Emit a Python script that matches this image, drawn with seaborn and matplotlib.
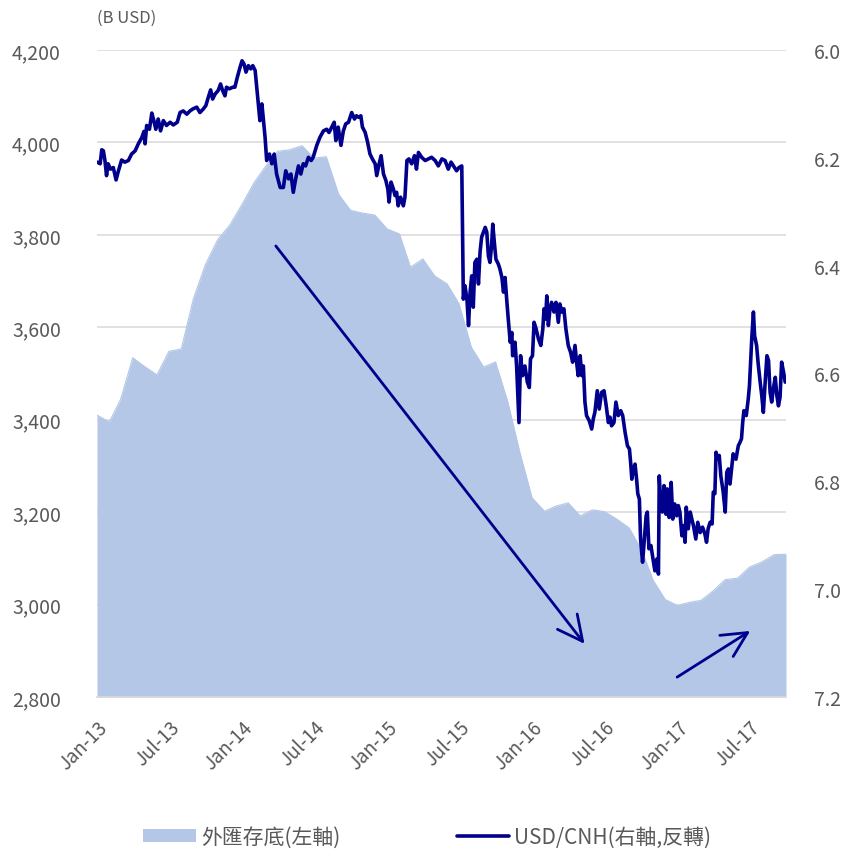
import datetime as dt
import numpy as np
import pandas as pd
import matplotlib
matplotlib.use("Agg")
import matplotlib.pyplot as plt
import matplotlib.dates as mdates
import matplotlib.ticker as mticker
from matplotlib.patches import Patch
from matplotlib.lines import Line2D
import seaborn as sns

# ---------------- data ----------------
# FX reserves (B USD), monthly Jan-2013 .. Oct-2017
reserves_2013 = [3410, 3395, 3443, 3534, 3515, 3497, 3548, 3553, 3663, 3736, 3790, 3821]
reserves_2014 = [3866, 3914, 3948, 3981, 3984, 3993, 3966, 3969, 3888, 3853, 3847, 3843]
reserves_2015 = [3813, 3802, 3730, 3748, 3711, 3694, 3651, 3557, 3514, 3525, 3438, 3330]
reserves_2016 = [3231, 3202, 3213, 3220, 3192, 3205, 3201, 3185, 3166, 3121, 3052, 3011]
reserves_2017 = [2998, 3005, 3009, 3030, 3054, 3057, 3081, 3092, 3108, 3109]

# USD/CNH, days since 2013-01-01 and rate
cnh_day_a = [1,8,12,16,20,24,28,34,41,48,54,62,70,79,87,96,104,113,118,121,125,132,138,143,148,154,160,167,175,184,
             192,202,209,217,226,234,242,251,259,268,274,280,286,291,297,305,311,316,322,326,333,342,347,353,360,365,
             370,375,381,387,392,398,402,406,410,415,419,423,427,434,440,446,452,461]
cnh_val_a = [6.208,6.211,6.185,6.187,6.205,6.233,6.211,6.221,6.218,6.241,6.224,6.204,6.208,6.205,6.193,6.187,6.174,
             6.162,6.151,6.174,6.140,6.147,6.117,6.131,6.147,6.128,6.150,6.131,6.140,6.134,6.139,6.134,6.116,6.113,
             6.119,6.113,6.109,6.106,6.116,6.109,6.103,6.088,6.074,6.091,6.082,6.075,6.063,6.075,6.085,6.069,6.072,
             6.069,6.069,6.051,6.032,6.020,6.026,6.041,6.029,6.035,6.029,6.038,6.069,6.100,6.131,6.100,6.131,6.162,
             6.205,6.193,6.211,6.193,6.230,6.255]
cnh_day_b = [469,475,482,488,494,500,507,513,519,525,532,539,544,553,561,570,578,584,591,597,601,607,614,620,626,633,
             641,648,653,659,664,668,675,681,687,693,700,704,710,715,721,727,732,735,740,746,750,754,758,764,771,775,
             780,785,792,799,804,809,817,826,834,842,851,859,868,876,884,891,897,905,911,918]
cnh_val_b = [6.255,6.224,6.239,6.230,6.264,6.239,6.215,6.230,6.211,6.215,6.199,6.205,6.199,6.177,6.162,6.150,6.147,
             6.153,6.143,6.134,6.168,6.143,6.177,6.150,6.137,6.134,6.116,6.128,6.122,6.125,6.122,6.143,6.153,6.171,
             6.193,6.202,6.211,6.233,6.211,6.196,6.230,6.242,6.258,6.282,6.245,6.258,6.270,6.264,6.289,6.273,6.289,
             6.273,6.205,6.202,6.211,6.196,6.221,6.190,6.199,6.205,6.202,6.199,6.205,6.215,6.202,6.205,6.221,6.208,
             6.215,6.224,6.218,6.215]
cnh_day_c = [922,926,931,935,939,943,947,951,956,960,964,968,977,981,985,989,993,996,1000,1004,1010,1014,1019,1023,
             1027,1031,1035,1040,1044,1046,1052,1056,1062,1066,1071,1077,1083,1088,1091,1096,1100,1105,1111,1117,1122,
             1125,1129,1132,1136,1140,1144,1150,1155,1161,1165,1170,1175,1180,1186,1192,1197,1203,1207,1211,1216,1220,
             1224,1228,1232,1239,1245,1249,1253,1259,1264,1270]
cnh_val_c = [6.462,6.437,6.462,6.511,6.449,6.419,6.477,6.394,6.388,6.434,6.375,6.347,6.329,6.338,6.382,6.394,6.363,
             6.323,6.357,6.388,6.397,6.406,6.422,6.449,6.422,6.462,6.499,6.542,6.524,6.567,6.542,6.586,6.691,6.567,
             6.604,6.586,6.616,6.626,6.573,6.567,6.505,6.517,6.536,6.548,6.517,6.480,6.499,6.456,6.511,6.480,6.468,
             6.486,6.468,6.505,6.471,6.486,6.480,6.517,6.548,6.561,6.579,6.548,6.579,6.604,6.567,6.604,6.586,6.653,
             6.678,6.688,6.703,6.684,6.672,6.632,6.666,6.635]
cnh_day_d = [1276,1281,1287,1291,1295,1301,1306,1312,1318,1323,1329,1335,1340,1343,1346,1350,1354,1358,1361,1365,
             1368,1373,1377,1382,1385,1389,1394,1398,1404,1409,1413,1415,1419,1423,1427,1432,1435,1440,1445,1449,
             1454,1459,1463,1467,1472,1476,1480,1483,1488,1493,1497,1501,1507,1512,1518,1524,1530,1534,1538,1543,
             1548,1551,1555,1558,1561,1566,1570,1576,1581,1585,1589,1593,1597,1601,1608,1614,1618,1622,1625,1628,
             1634,1639,1642,1648,1652,1655,1660,1664,1669,1673,1677,1681,1686,1690,1694,1698,1702,1707,1711,1715,
             1719,1723,1728,1732]
cnh_val_d = [6.632,6.657,6.691,6.681,6.697,6.691,6.653,6.678,6.669,6.678,6.709,6.734,6.740,6.765,6.796,6.777,6.768,
             6.796,6.823,6.833,6.907,6.950,6.913,6.864,6.857,6.925,6.919,6.938,6.966,6.944,6.972,6.790,6.845,6.857,
             6.808,6.861,6.814,6.867,6.802,6.870,6.842,6.864,6.845,6.857,6.901,6.882,6.913,6.848,6.888,6.857,6.870,
             6.882,6.907,6.876,6.895,6.885,6.898,6.913,6.888,6.876,6.879,6.820,6.823,6.746,6.759,6.752,6.790,6.820,
             6.857,6.783,6.777,6.805,6.777,6.749,6.759,6.734,6.728,6.721,6.691,6.669,6.678,6.647,6.623,6.533,6.486,
             6.530,6.548,6.582,6.616,6.641,6.672,6.623,6.567,6.576,6.635,6.653,6.629,6.607,6.641,6.660,6.644,6.579,
             6.598,6.616]

# trend arrows (date, reserves value) start -> end
arrow_down = (("2014-03-27", 3776), ("2016-05-12", 2915))
arrow_up = (("2016-12-31", 2843), ("2017-07-03", 2943))

x_ticks = ["2013-01-01", "2013-07-01", "2014-01-01", "2014-07-01", "2015-01-01",
           "2015-07-01", "2016-01-01", "2016-07-01", "2017-01-01", "2017-07-01"]
left_ticks = [2800, 3000, 3200, 3400, 3600, 3800, 4000, 4200]
right_ticks = [6.0, 6.2, 6.4, 6.6, 6.8, 7.0, 7.2]

label_area = "外匯存底(左軸)"
label_line = "USD/CNH(右軸,反轉)"
unit_text = "(B USD)"

# ---------------- frames ----------------
reserves = reserves_2013 + reserves_2014 + reserves_2015 + reserves_2016 + reserves_2017
res_df = pd.DataFrame({
    "date": pd.date_range("2013-01-01", periods=len(reserves), freq="MS"),
    "reserves": reserves,
})
start = pd.Timestamp("2013-01-01")
cnh_df = pd.DataFrame({
    "date": start + pd.to_timedelta(cnh_day_a + cnh_day_b + cnh_day_c + cnh_day_d, unit="D"),
    "cnh": cnh_val_a + cnh_val_b + cnh_val_c + cnh_val_d,
})

# ---------------- style ----------------
sns.set_theme(style="white")
plt.rcParams["font.family"] = ["Noto Sans CJK TC", "DejaVu Sans"]
gray = "#595959"
area_col = "#B4C7E7"
line_col = "#00008C"

fig = plt.figure(figsize=(8.46, 8.53), dpi=100)
ax = fig.add_axes([97 / 846, 1 - 698 / 853, (786 - 97) / 846, (698 - 51) / 853])

ax.fill_between(res_df["date"], 2800, res_df["reserves"], color=area_col, lw=0, zorder=2)
sns.lineplot(data=res_df, x="date", y="reserves", ax=ax, color=area_col, lw=0.8, zorder=2)

ax.set_ylim(2800, 4200)
ax.set_yticks(left_ticks)
ax.yaxis.set_major_formatter(mticker.FuncFormatter(lambda v, p: f"{int(v):,}"))
ax.set_xlim(pd.Timestamp("2013-01-01"), pd.Timestamp("2017-10-01"))
ax.set_xticks(pd.to_datetime(x_ticks))
ax.xaxis.set_major_formatter(mdates.DateFormatter("%b-%y"))
ax.grid(axis="y", color="#D9D9D9", lw=1.1, zorder=0)
ax.grid(axis="x", visible=False)
ax.set_axisbelow(True)
for s in ["top", "left", "right"]:
    ax.spines[s].set_visible(False)
ax.spines["bottom"].set_color("#D9D9D9")
ax.set_xlabel("")
ax.set_ylabel("")
ax.tick_params(axis="y", length=0, labelsize=14, labelcolor=gray, pad=26)
ax.tick_params(axis="x", length=0, labelsize=13.5, labelcolor=gray, pad=14)
for lab in ax.get_xticklabels():
    lab.set_rotation(45)
    lab.set_ha("right")
    lab.set_rotation_mode("anchor")

ax2 = ax.twinx()
sns.lineplot(data=cnh_df, x="date", y="cnh", ax=ax2, color=line_col, lw=2.6, zorder=3)
ax2.set_ylim(7.2, 6.0)
ax2.set_yticks(right_ticks)
ax2.yaxis.set_major_formatter(mticker.FormatStrFormatter("%.1f"))
ax2.tick_params(axis="y", length=0, labelsize=14, labelcolor=gray, pad=20)
ax2.grid(False)
for s in ["top", "left", "right", "bottom"]:
    ax2.spines[s].set_visible(False)
ax2.set_xlabel("")
ax2.set_ylabel("")

for (s_d, s_v), (e_d, e_v) in (arrow_down, arrow_up):
    ax2.annotate("", xy=(mdates.date2num(pd.Timestamp(e_d)), e_v),
                 xytext=(mdates.date2num(pd.Timestamp(s_d)), s_v),
                 xycoords=ax.transData, textcoords=ax.transData,
                 arrowprops=dict(arrowstyle="->,head_length=0.9,head_width=0.45",
                                 color=line_col, lw=2, mutation_scale=20,
                                 shrinkA=0, shrinkB=0), zorder=4)

fig.text(97 / 846, 1 - 18 / 853, unit_text, ha="left", va="center", fontsize=12, color=gray)

handles = [Patch(facecolor=area_col, edgecolor="none", label=label_area),
           Line2D([0], [0], color=line_col, lw=2.6, label=label_line)]
fig.legend(handles=handles, loc="center", bbox_to_anchor=(0.505, 1 - 838 / 853), ncol=2,
           frameon=False, fontsize=15, labelcolor=gray, handlelength=2.5, handleheight=0.55,
           columnspacing=5.6, handletextpad=0.25)

fig.savefig("out.png", dpi=100)
